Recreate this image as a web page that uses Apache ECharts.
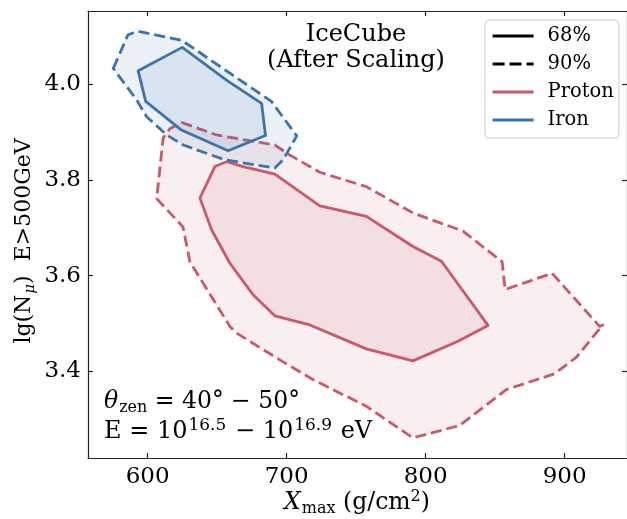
<!DOCTYPE html>
<html><head><meta charset="utf-8">
<script src="https://cdn.jsdelivr.net/npm/echarts@6/dist/echarts.min.js"></script>
<style>html,body{margin:0;padding:0;background:#fff}#c{width:627px;height:519px}</style>
</head><body><div id="c"></div>
<script>
const xTicks = [600, 700, 800, 900];
const yTicks = [3.4, 3.6, 3.8, 4.0];
const legendNames = ['68%', '90%', 'Proton', 'Iron'];
const protonC90 = [[624.4,3.920],[649.6,3.894],[691.5,3.873],[702.3,3.852],[723.9,3.816],[757.4,3.786],[790.9,3.731],[826.9,3.693],[855.1,3.629],[857.2,3.571],[891.0,3.605],[925.2,3.494],[927.5,3.497],[908.6,3.430],[892.8,3.395],[858.1,3.362],[824.5,3.287],[790.9,3.261],[757.4,3.327],[718.8,3.383],[695.1,3.424],[664.0,3.480],[659.2,3.494],[630.4,3.629],[625.4,3.702],[606.5,3.761],[611.2,3.888],[616.0,3.907]];
const protonC68 = [[637.6,3.762],[648.4,3.828],[656.8,3.838],[668.7,3.828],[691.5,3.812],[723.9,3.746],[757.4,3.724],[790.9,3.661],[811.4,3.630],[844.9,3.496],[823.3,3.463],[790.9,3.422],[757.4,3.447],[716.7,3.497],[691.5,3.516],[675.9,3.560],[659.2,3.626],[646.0,3.696]];
const ironC90 = [[575.3,4.033],[585.8,4.103],[592.5,4.111],[624.4,4.092],[689.1,3.964],[707.3,3.892],[697.5,3.842],[691.5,3.825],[655.6,3.842],[625.6,3.873],[613.7,3.894],[599.3,3.932],[592.1,3.967]];
const ironC68 = [[593.2,4.028],[624.9,4.077],[657.5,4.007],[682.0,3.960],[684.8,3.893],[657.9,3.861],[623.9,3.905],[598.6,3.964]];

const RED = '#c9596b', BLUE = '#3b74ad';
const FONT = 'DejaVu Serif';
function rgba(hex, a){const n=parseInt(hex.slice(1),16);return `rgba(${n>>16},${(n>>8)&255},${n&255},${a})`;}
function poly(name, pts, color, dashed, z){
  return {type:'custom', name, coordinateSystem:'cartesian2d', xAxisIndex:0, yAxisIndex:0, z,
    data: pts, encode:{x:0,y:1}, silent:true,
    renderItem:(params, api)=>{
      if(params.dataIndex!==0) return {type:'group', children:[]};
      const points = pts.map(p=>api.coord(p));
      return {type:'polygon', shape:{points}, style:{fill: rgba(color,0.1), stroke: color, lineWidth: 2.8, lineDash: dashed?[11,5]:null, lineJoin:'round', lineCap:'butt'}};
    }};
}
const chart = echarts.init(document.getElementById('c'), null, {renderer:'canvas'});
const axisCommon = {type:'value', splitLine:{show:false}, axisLine:{show:true, onZero:false, lineStyle:{color:'#222', width:1.2}},
  axisTick:{inside:true, length:5, lineStyle:{color:'#222', width:1.2}}};
chart.setOption({
  animation:false,
  grid:{left:88, top:11, right:-0.5, bottom:61, containLabel:false},
  xAxis:[
    Object.assign({}, axisCommon, {min:557.1, max:944.9, position:'bottom',
      axisTick:Object.assign({}, axisCommon.axisTick, {customValues:xTicks}),
      axisLabel:{customValues:xTicks, fontSize:23, fontFamily:FONT, color:'#000', margin:8}}),
    Object.assign({}, axisCommon, {min:557.1, max:944.9, position:'top',
      axisTick:Object.assign({}, axisCommon.axisTick, {customValues:xTicks}),
      axisLabel:{show:false}})
  ],
  yAxis:[
    Object.assign({}, axisCommon, {min:3.219, max:4.153, position:'left',
      axisTick:Object.assign({}, axisCommon.axisTick, {customValues:yTicks}),
      axisLabel:{customValues:yTicks, fontSize:23, fontFamily:FONT, color:'#000', margin:7, formatter:v=>v.toFixed(1)}}),
    Object.assign({}, axisCommon, {min:3.219, max:4.153, position:'right',
      axisTick:Object.assign({}, axisCommon.axisTick, {customValues:yTicks}),
      axisLabel:{show:false}})
  ],
  legend:{data:legendNames, orient:'vertical', left:485, top:20,
    itemWidth:41, itemHeight:14, itemGap:8, padding:[6,5,8,6],
    itemStyle:{opacity:0}, lineStyle:{width:3.2},
    backgroundColor:'rgba(255,255,255,0.8)', borderColor:'#cccccc', borderWidth:1, borderRadius:4,
    textStyle:{fontFamily:FONT, fontSize:19.5, color:'#000', padding:[0,0,0,9]}},
  series:[
    poly('p90', protonC90, RED, true, 2),
    poly('p68', protonC68, RED, false, 3),
    poly('i90', ironC90, BLUE, true, 4),
    poly('i68', ironC68, BLUE, false, 5),
    {type:'line', name:'68%', data:[], symbol:'none', color:'#000', lineStyle:{color:'#000', width:3.2, type:'solid'}},
    {type:'line', name:'90%', data:[], symbol:'none', color:'#000', lineStyle:{color:'#000', width:3.2, type:[12,5]}},
    {type:'line', name:'Proton', data:[], symbol:'none', color:RED, lineStyle:{color:RED, width:3.2}},
    {type:'line', name:'Iron', data:[], symbol:'none', color:BLUE, lineStyle:{color:BLUE, width:3.2}}
  ],
  graphic:[
    {type:'text', x:356, y:35, style:{text:'IceCube', font:`24px "${FONT}"`, fill:'#000', align:'center', verticalAlign:'middle'}},
    {type:'text', x:356, y:61, style:{text:'(After Scaling)', font:`24px "${FONT}"`, fill:'#000', align:'center', verticalAlign:'middle'}},
    {type:'text', x:104, y:402, style:{text:'{it|θ}{sub|zen}{n| = 40° − 50°}', fill:'#000', align:'left', verticalAlign:'middle',
      rich:{it:{fontFamily:FONT, fontStyle:'italic', fontSize:23.5}, sub:{fontFamily:FONT, fontSize:16, padding:[12,0,0,1]}, n:{fontFamily:FONT, fontSize:23.5}}}},
    {type:'text', x:104, y:432, style:{text:'{n|E = 10}{sup|16.5}{n| − 10}{sup|16.9}{n| eV}', fill:'#000', align:'left', verticalAlign:'middle',
      rich:{n:{fontFamily:FONT, fontSize:24}, sup:{fontFamily:FONT, fontSize:17, padding:[0,1,12,1]}}}},
    {type:'text', x:357, y:503, style:{text:'{it|X}{sub|max}{n| (g/cm}{sup|2}{n|)}', fill:'#000', align:'center', verticalAlign:'middle',
      rich:{it:{fontFamily:FONT, fontStyle:'italic', fontSize:23.5}, sub:{fontFamily:FONT, fontSize:16, padding:[12,0,0,1]}, n:{fontFamily:FONT, fontSize:23.5}, sup:{fontFamily:FONT, fontSize:16, padding:[0,0,12,0]}}}},
    {type:'text', x:24, y:241, rotation:Math.PI/2, style:{text:'{n|lg(N}{sub|μ}{n|)  E>500GeV}', fill:'#000', align:'center', verticalAlign:'middle',
      rich:{n:{fontFamily:FONT, fontSize:22}, sub:{fontFamily:FONT, fontStyle:'italic', fontSize:15, padding:[12,0,0,1]}}}}
  ]
});
</script></body></html>
